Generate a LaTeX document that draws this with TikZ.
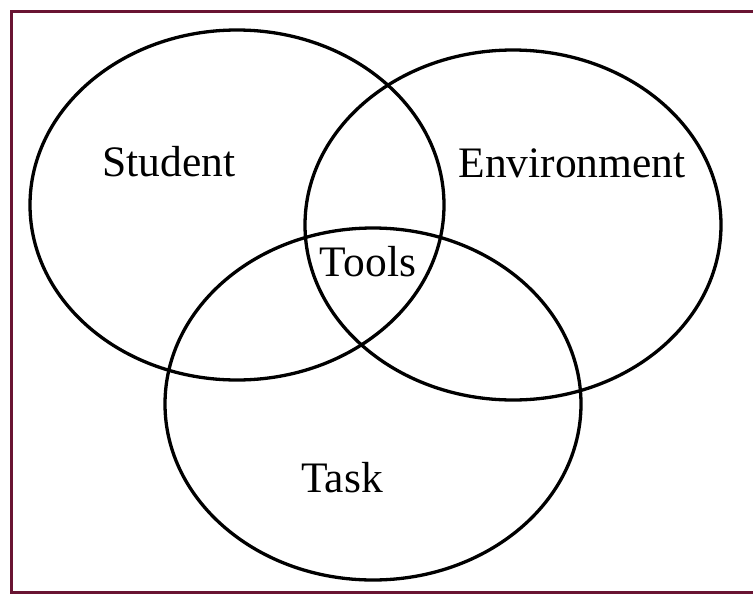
\documentclass[tikz,border=0pt]{standalone}
\usepackage{fontspec}
\setmainfont{Liberation Serif}
\definecolor{framecol}{RGB}{105,20,50}
\begin{document}
\begin{tikzpicture}[x=1pt,y=-1pt,
  ring/.style={draw=black,line width=3.3pt},
  lbl/.style={font=\fontsize{43.5}{47}\selectfont,inner sep=0pt}]
\useasboundingbox (0,0) rectangle (753,595);
\draw[framecol,line width=3pt] (756,11) -- (11,11) -- (11,592) -- (756,592);
\draw[ring] (237,205) ellipse [x radius=207,y radius=175];
\draw[ring] (513,225) ellipse [x radius=208,y radius=175];
\draw[ring] (373,404) ellipse [x radius=208,y radius=176];
\node[lbl] (student) at (169,162) {Student};
\node[lbl] (env) at (572,163) {Environment};
\node[lbl] (tools) at (368,262) {Tools};
\node[lbl] (task) at (342,478) {Task};
\end{tikzpicture}
\end{document}
